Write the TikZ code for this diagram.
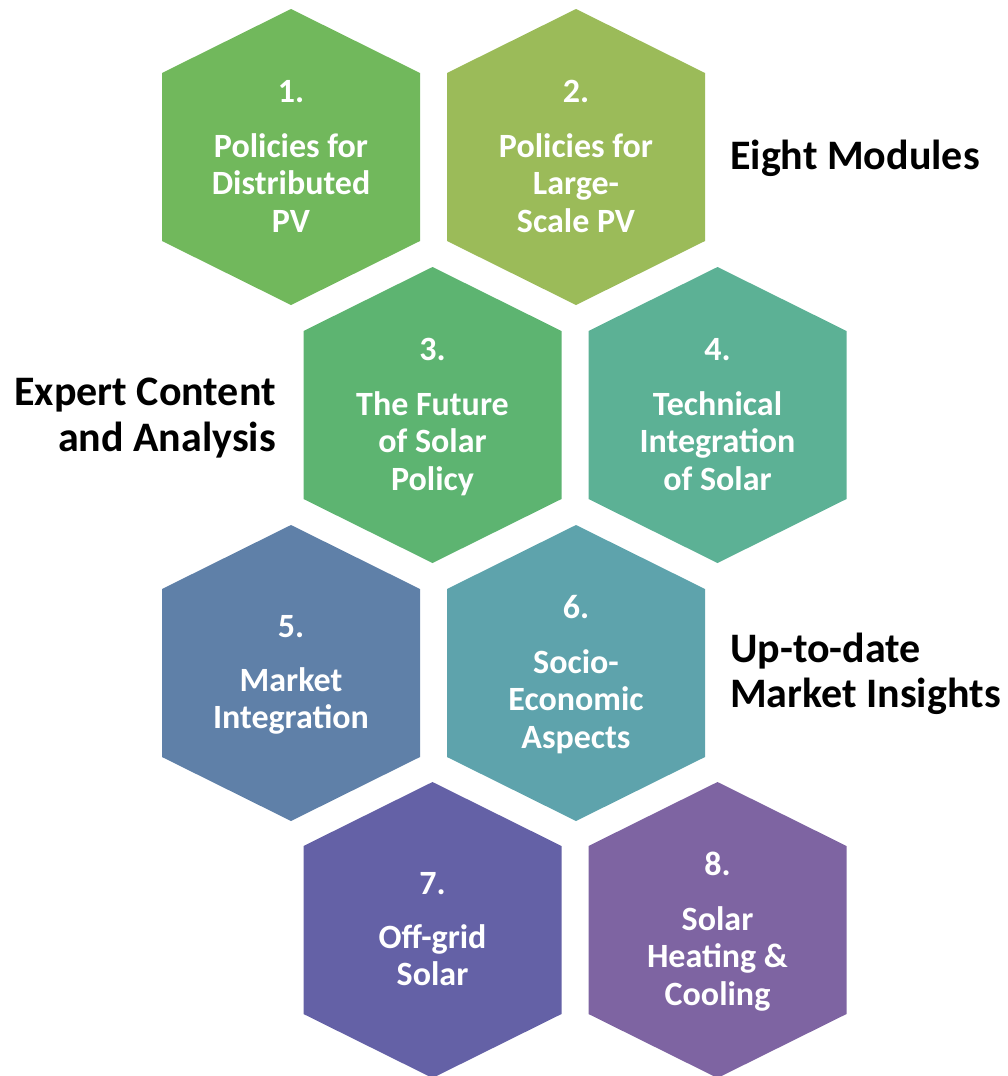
\documentclass[tikz,border=0pt]{standalone}
\usepackage{fontspec}
\setmainfont{Carlito}
\usetikzlibrary{calc}

\definecolor{hexA}{HTML}{71B85C}
\definecolor{hexB}{HTML}{9BBB59}
\definecolor{hexC}{HTML}{5DB471}
\definecolor{hexD}{HTML}{5CB195}
\definecolor{hexE}{HTML}{5F80A8}
\definecolor{hexF}{HTML}{5EA3AC}
\definecolor{hexG}{HTML}{6461A6}
\definecolor{hexH}{HTML}{7E64A2}

\tikzset{
  hextext/.style={anchor=base, text=white, inner sep=0pt,
    font=\bfseries\fontsize{34}{40}\selectfont},
  sidelabel/.style={text=black, inner sep=0pt,
    font=\bfseries\fontsize{42}{49}\selectfont},
}

\begin{document}
\begin{tikzpicture}[x=1pt,y=-1pt]
\useasboundingbox (0,0) rectangle (1008,1076);

% honeycomb tiles
\foreach \n/\cx/\cy/\c in {1/291/157/hexA, 2/576/157/hexB,
                           3/432.5/415/hexC, 4/717.5/415/hexD,
                           5/291/673/hexE, 6/576/673/hexF,
                           7/432.5/930/hexG, 8/717.5/930/hexH}{
  \coordinate (hex\n) at (\cx,\cy);
  \fill[\c] (\cx,\cy) ++(0,-148) -- ++(129,64) -- ++(0,168)
        -- ++(-129,64) -- ++(-129,-64) -- ++(0,-168) -- cycle;
}

% module 1
\node[hextext] (n1)  at ($(hex1)+(0,-55)$)   {1.};
\node[hextext] (l1a) at ($(hex1)+(0,0)$)     {Policies for};
\node[hextext] (l1b) at ($(hex1)+(0,37.5)$)  {Distributed};
\node[hextext] (l1c) at ($(hex1)+(0,75)$)    {PV};
% module 2
\node[hextext] (n2)  at ($(hex2)+(0,-55)$)   {2.};
\node[hextext] (l2a) at ($(hex2)+(0,0)$)     {Policies for};
\node[hextext] (l2b) at ($(hex2)+(0,37.5)$)  {Large-};
\node[hextext] (l2c) at ($(hex2)+(0,75)$)    {Scale PV};
% module 3
\node[hextext] (n3)  at ($(hex3)+(0,-55)$)   {3.};
\node[hextext] (l3a) at ($(hex3)+(0,0)$)     {The Future};
\node[hextext] (l3b) at ($(hex3)+(0,37.5)$)  {of Solar};
\node[hextext] (l3c) at ($(hex3)+(0,75)$)    {Policy};
% module 4
\node[hextext] (n4)  at ($(hex4)+(0,-55)$)   {4.};
\node[hextext] (l4a) at ($(hex4)+(0,0)$)     {Technical};
\node[hextext] (l4b) at ($(hex4)+(0,37.5)$)  {Integration};
\node[hextext] (l4c) at ($(hex4)+(0,75)$)    {of Solar};
% module 5
\node[hextext] (n5)  at ($(hex5)+(0,-36)$)   {5.};
\node[hextext] (l5a) at ($(hex5)+(0,18)$)    {Market};
\node[hextext] (l5b) at ($(hex5)+(0,55.5)$)  {Integration};
% module 6
\node[hextext] (n6)  at ($(hex6)+(0,-55)$)   {6.};
\node[hextext] (l6a) at ($(hex6)+(0,0)$)     {Socio-};
\node[hextext] (l6b) at ($(hex6)+(0,37.5)$)  {Economic};
\node[hextext] (l6c) at ($(hex6)+(0,75)$)    {Aspects};
% module 7
\node[hextext] (n7)  at ($(hex7)+(0,-36)$)   {7.};
\node[hextext] (l7a) at ($(hex7)+(0,18)$)    {Off-grid};
\node[hextext] (l7b) at ($(hex7)+(0,55.5)$)  {Solar};
% module 8
\node[hextext] (n8)  at ($(hex8)+(0,-55)$)   {8.};
\node[hextext] (l8a) at ($(hex8)+(0,0)$)     {Solar};
\node[hextext] (l8b) at ($(hex8)+(0,37.5)$)  {Heating \&};
\node[hextext] (l8c) at ($(hex8)+(0,75)$)    {Cooling};

% side captions
\node[sidelabel, anchor=base west] (capA)  at (730,169) {Eight Modules};
\node[sidelabel, anchor=base east] (capB1) at (276,405) {Expert Content};
\node[sidelabel, anchor=base east] (capB2) at (276,451) {and Analysis};
\node[sidelabel, anchor=base west] (capC1) at (730,662) {Up-to-date};
\node[sidelabel, anchor=base west] (capC2) at (730,707) {Market Insights};
\end{tikzpicture}
\end{document}
